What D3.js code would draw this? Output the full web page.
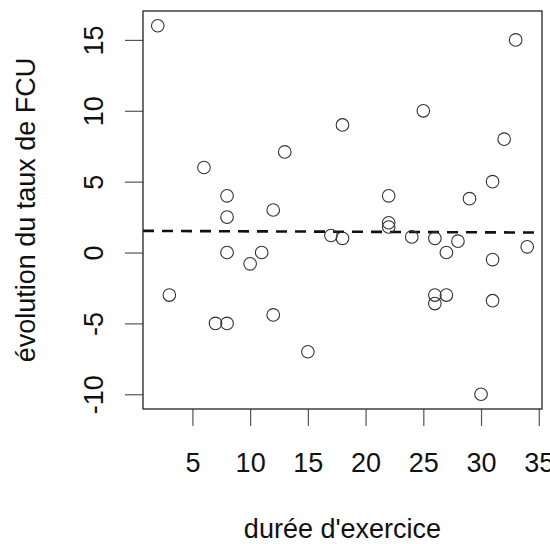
<!DOCTYPE html>
<html>
<head>
<meta charset="utf-8">
<script src="https://cdn.jsdelivr.net/npm/d3@7"></script>
<style>
  body { margin: 0; background: #fff; }
  text { font-family: "Liberation Sans", Arial, sans-serif; fill: #111; }
</style>
</head>
<body>
<div id="chart"></div>
<script>
// duree d'exercice vs evolution du taux de FCU
var duree = [2, 3, 6, 7, 8, 8, 8, 8, 10, 11, 12, 12, 13, 15, 17, 18, 18, 22, 22, 22,
             24, 25, 26, 26, 26, 27, 27, 28, 29, 30, 31, 31, 31, 32, 33, 34];
var evolution = [16, -3, 6, -5, 4, 2.5, 0, -5, -0.8, 0, 3, -4.4, 7.1, -7, 1.2, 9, 1, 4, 2.1, 1.8,
                 1.1, 10, 1, -3, -3.6, 0, -3, 0.8, 3.8, -10, 5, -0.5, -3.4, 8, 15, 0.4];
var xTicks = [5, 10, 15, 20, 25, 30, 35];
var yTicks = [-10, -5, 0, 5, 10, 15];
// dashed trend line
var trendIntercept = 1.53;
var trendSlope = -0.0035;

var width = 550, height = 544;
var plotLeft = 143, plotRight = 542, plotTop = 11, plotBottom = 409;

// R style domain: data range + 4% each side
function rDomain(v){
	var lo = d3.min(v), hi = d3.max(v), pad = (hi - lo) * 0.04;
	return [lo - pad, hi + pad];
}

var xDom = rDomain(duree);
var yDom = rDomain(evolution);

var x = d3.scaleLinear().domain(xDom).range([plotLeft, plotRight]);
var y = d3.scaleLinear().domain(yDom).range([plotBottom, plotTop]);

// plain hyphen for negatives, like R
var fmt = function(d){ return String(d); };

var svg = d3.select("#chart").append("svg")
	.attr("width", width)
	.attr("height", height);

// x axis
var xAxis = svg.append("g")
	.attr("transform", "translate(0," + plotBottom + ")")
	.call(d3.axisBottom(x).tickValues(xTicks).tickSize(17).tickFormat(fmt));
xAxis.select(".domain").remove();
xAxis.selectAll(".tick line").attr("stroke", "#555").attr("stroke-width", 1.2);
xAxis.selectAll(".tick text")
	.attr("y", 63)
	.attr("dy", null)
	.style("font-size", "27px")
	.style("font-family", "Liberation Sans, Arial, sans-serif")
	.attr("fill", "#111");

// y axis
var yAxis = svg.append("g")
	.attr("transform", "translate(" + plotLeft + ",0)")
	.call(d3.axisLeft(y).tickValues(yTicks).tickSize(18).tickFormat(fmt));
yAxis.select(".domain").remove();
yAxis.selectAll(".tick line").attr("stroke", "#555").attr("stroke-width", 1.2);
yAxis.selectAll(".tick text")
	.attr("x", null)
	.attr("dy", null)
	.attr("text-anchor", "middle")
	.attr("transform", "translate(-40,0) rotate(-90)")
	.style("font-size", "27px")
	.style("font-family", "Liberation Sans, Arial, sans-serif")
	.attr("fill", "#111");

// dashed line
svg.append("line")
	.attr("x1", x(xDom[0]))
	.attr("y1", y(trendIntercept + trendSlope * xDom[0]))
	.attr("x2", x(xDom[1]))
	.attr("y2", y(trendIntercept + trendSlope * xDom[1]))
	.attr("stroke", "#111")
	.attr("stroke-width", 2.6)
	.attr("stroke-dasharray", "11,8");

// points
var pts = duree.map(function(d, i){ return {x: d, y: evolution[i]}; });
svg.selectAll("circle").data(pts)
	.enter().append("circle")
	.attr("cx", function(d){ return x(d.x); })
	.attr("cy", function(d){ return y(d.y); })
	.attr("r", 6.3)
	.attr("fill", "none")
	.attr("stroke", "#333")
	.attr("stroke-width", 1.1);

// box
svg.append("rect")
	.attr("x", plotLeft)
	.attr("y", plotTop)
	.attr("width", plotRight - plotLeft)
	.attr("height", plotBottom - plotTop)
	.attr("fill", "none")
	.attr("stroke", "#222")
	.attr("stroke-width", 1.3);

// titles
svg.append("text")
	.attr("x", (plotLeft + plotRight) / 2)
	.attr("y", 538)
	.attr("text-anchor", "middle")
	.style("font-size", "27px")
	.text("durée d'exercice");

svg.append("text")
	.attr("transform", "translate(35," + ((plotTop + plotBottom) / 2) + ") rotate(-90)")
	.attr("text-anchor", "middle")
	.style("font-size", "27px")
	.text("évolution du taux de FCU");
</script>
</body>
</html>
